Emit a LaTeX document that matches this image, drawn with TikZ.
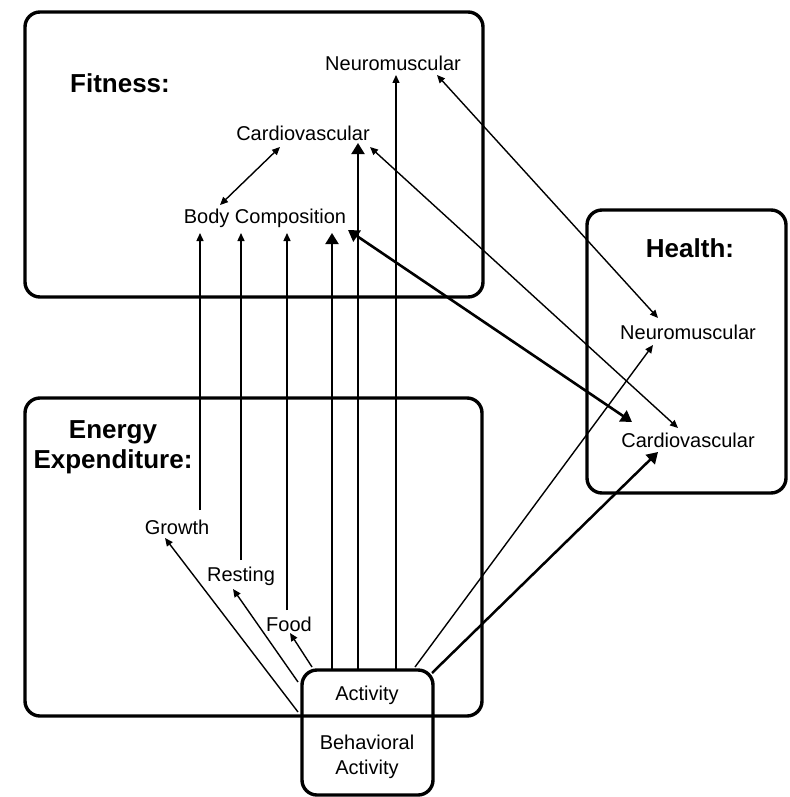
\documentclass[tikz,border=0pt]{standalone}
\usepackage{fontspec}
\setmainfont{Liberation Sans}
\usetikzlibrary{arrows.meta}
\tikzset{
  box/.style={line width=3.4pt, rounded corners=15pt},
  lbl/.style={font=\fontsize{20}{25}\selectfont, inner sep=1pt, align=center},
  ttl/.style={font=\fontsize{26}{30}\selectfont\bfseries, inner sep=1pt, align=center},
  thin/.style={line width=1.4pt, -{Triangle[length=8pt,width=7pt]}},
  thinb/.style={line width=1.4pt, {Triangle[length=8pt,width=7pt]}-{Triangle[length=8pt,width=7pt]}},
  thick/.style={line width=2.5pt, -{Triangle[length=11pt,width=13pt]}},
  thickb/.style={line width=2.6pt, {Triangle[length=11pt,width=13pt]}-{Triangle[length=11pt,width=13pt]}},
}
\begin{document}
\begin{tikzpicture}[x=1pt,y=-1pt]
\useasboundingbox (0,0) rectangle (789,797);
% boxes
\draw[box] (25,12) rectangle (483,297);
\draw[box] (587,210) rectangle (786,493);
\draw[box] (25,398) rectangle (482,716);
\draw[box] (302,670) rectangle (433,795);
% texts
\node[ttl] (fit) at (120,83) {Fitness:};
\node[lbl] (fneuro) at (393,63) {Neuromuscular};
\node[lbl] (fcardio) at (303,133) {Cardiovascular};
\node[lbl] (bc) at (265,218) {Body Composition};
\node[ttl] (hea) at (690,248) {Health:};
\node[lbl] (hneuro) at (688,332) {Neuromuscular};
\node[lbl] (hcardio) at (688,440) {Cardiovascular};
\node[ttl] (ee) at (113,447) {Energy\\Expenditure:};
\node[lbl] (gro) at (177,527) {Growth};
\node[lbl] (res) at (241,576) {Resting};
\node[lbl] (food) at (289,624) {Food};
\node[lbl] (act) at (367,695) {Activity};
\node[lbl] (beh) at (367,757) {Behavioral\\Activity};
% endpoints
\coordinate (g1) at (200,510); \coordinate (g2) at (200,233);
\coordinate (r1) at (241,560); \coordinate (r2) at (241,233);
\coordinate (f1) at (287,610); \coordinate (f2) at (287,233);
\coordinate (a1) at (332,670); \coordinate (a2) at (332,233);
\coordinate (a3) at (358,670); \coordinate (a4) at (358,143);
\coordinate (a5) at (396,670); \coordinate (a6) at (396,75);
\coordinate (ag1) at (298,712); \coordinate (ag2) at (165,538);
\coordinate (ar1) at (298,682); \coordinate (ar2) at (233,589);
\coordinate (af1) at (312,667); \coordinate (af2) at (290,633);
\coordinate (an1) at (415,667); \coordinate (an2) at (653,345);
\coordinate (ac1) at (432,673); \coordinate (ac2) at (658,452);
\coordinate (nn1) at (437,75); \coordinate (nn2) at (658,318);
\coordinate (cc1) at (370,147); \coordinate (cc2) at (678,428);
\coordinate (bh1) at (348,230); \coordinate (bh2) at (632,422);
\coordinate (fc1) at (280,147); \coordinate (fc2) at (220,205);
% arrows
\draw[thin] (g1) -- (g2);
\draw[thin] (r1) -- (r2);
\draw[thin] (f1) -- (f2);
\draw[thick, line width=1.9pt] (a1) -- (a2);
\draw[thick, line width=1.9pt] (a3) -- (a4);
\draw[thin] (a5) -- (a6);
\draw[thin] (ag1) -- (ag2);
\draw[thin] (ar1) -- (ar2);
\draw[thin] (af1) -- (af2);
\draw[thin] (an1) -- (an2);
\draw[thick] (ac1) -- (ac2);
\draw[thinb] (nn1) -- (nn2);
\draw[thinb] (cc1) -- (cc2);
\draw[thickb] (bh1) -- (bh2);
\draw[thinb] (fc1) -- (fc2);
\end{tikzpicture}
\end{document}
